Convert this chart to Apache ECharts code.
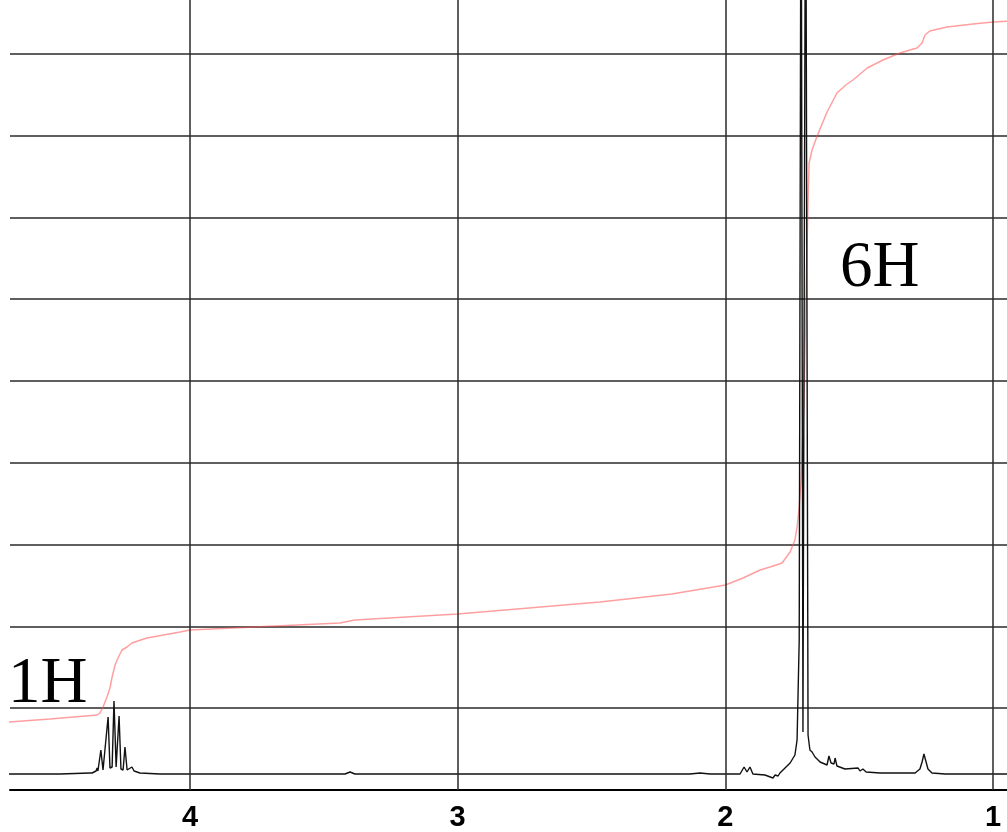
<!DOCTYPE html>
<html>
<head>
<meta charset="utf-8">
<script src="https://cdn.jsdelivr.net/npm/echarts@6/dist/echarts.min.js"></script>
<style>
  html, body { margin: 0; padding: 0; background: #fff; }
  #main { width: 1007px; height: 832px; }
</style>
</head>
<body>
<div id="main"></div>
<script>
// ppm axis labels
var ppmTicks = [1, 2, 3, 4];

// 1H spectrum trace (ppm, intensity in arbitrary units)
var specPpm = [4.68, 4.486, 4.374, 4.366, 4.351, 4.347, 4.344, 4.340, 4.333, 4.325,
  4.318, 4.306, 4.299, 4.291, 4.284, 4.276, 4.269, 4.265, 4.258, 4.250,
  4.243, 4.235, 4.228, 4.217, 4.209, 4.187, 4.112, 3.776, 3.421, 3.402,
  3.384, 2.842, 2.132, 2.095, 2.057, 1.945, 1.930, 1.919, 1.908, 1.897,
  1.852, 1.822, 1.814, 1.803, 1.796, 1.777, 1.758, 1.740, 1.732, 1.724,
  1.717, 1.710, 1.700, 1.691, 1.684, 1.676, 1.665, 1.646, 1.620, 1.613,
  1.605, 1.594, 1.590, 1.583, 1.553, 1.504, 1.497, 1.486, 1.474, 1.422,
  1.291, 1.273, 1.265, 1.258, 1.250, 1.243, 1.228, 1.179, 0.94];
var specInt = [16, 16, 17, 17, 19, 22, 19, 20, 40, 20,
  21, 73, 22, 23, 89, 23, 22, 74, 21, 20,
  43, 20, 19, 23, 19, 17, 16, 16, 16, 18,
  16, 16, 16, 17, 16, 16, 23, 18, 23, 16,
  15, 12, 15, 14, 17, 22, 27, 35, 50, 150,
  1000, 58, 1000, 55, 40, 38, 33, 28, 25, 34,
  27, 26, 32, 24, 21, 22, 19, 21, 18, 17,
  17, 21, 28, 36, 28, 21, 17, 16, 16];

// integral trace
var intPpm = [4.68, 4.523, 4.347, 4.336, 4.325, 4.310, 4.299, 4.291, 4.280, 4.269,
  4.254, 4.235, 4.217, 4.161, 4.037, 4.000, 3.440, 3.384, 3.000, 2.468,
  2.200, 2.000, 1.934, 1.870, 1.833, 1.788, 1.758, 1.740, 1.732, 1.725,
  1.717, 1.706, 1.699, 1.691, 1.687, 1.676, 1.657, 1.620, 1.583, 1.550,
  1.523, 1.470, 1.411, 1.348, 1.284, 1.265, 1.254, 1.236, 1.172, 1.075,
  1.000, 0.94];
var intVal = [68, 71, 75, 77, 83, 93, 102, 113, 125, 132,
  140, 143, 147, 152, 158, 160, 167, 170, 176, 188,
  196, 205, 212, 220, 223, 227, 238, 250, 263, 280,
  310, 390, 490, 590, 627, 640, 654, 678, 697, 705,
  710, 722, 730, 737, 742, 747, 755, 759, 763, 766,
  768, 769];

var peakLabels = ['1H', '6H'];

function zip(a, b) {
  return a.map(function (v, i) { return [v, b[i]]; });
}

var chart = echarts.init(document.getElementById('main'));

var option = {
  animation: false,
  grid: {
    left: 10,
    right: 0,
    top: 0,
    bottom: 42
  },
  xAxis: {
    type: 'value',
    inverse: true,
    min: 0.9477,
    max: 4.6725,
    axisLine: { lineStyle: { color: '#000', width: 2 } },
    axisTick: { show: false },
    splitLine: { show: false },
    axisLabel: {
      customValues: ppmTicks,
      color: '#000',
      fontFamily: 'Liberation Sans',
      fontWeight: 'bold',
      fontSize: 29,
      margin: 13
    }
  },
  yAxis: {
    type: 'value',
    min: 0,
    max: 790,
    interval: 81.8,
    axisLine: { show: false },
    axisTick: { show: false },
    axisLabel: { show: false },
    splitLine: {
      showMaxLine: false,
      lineStyle: { color: '#2a2a2a', width: 1.5 }
    }
  },
  series: [{
    name: 'integral',
    type: 'line',
    data: zip(intPpm, intVal),
    showSymbol: false,
    lineStyle: { color: 'rgba(255,80,80,0.55)', width: 1.5 },
    z: 2
  }, {
    name: 'spectrum',
    type: 'line',
    data: zip(specPpm, specInt),
    showSymbol: false,
    lineStyle: { color: '#111', width: 1.4 },
    z: 3,
    markLine: {
      silent: true,
      symbol: ['none', 'none'],
      label: { show: false },
      lineStyle: { color: '#2a2a2a', width: 1.5, type: 'solid' },
      data: ppmTicks.map(function (v) { return { xAxis: v }; })
    }
  }],
  graphic: [{
    type: 'text',
    left: 8,
    top: 652,
    style: {
      text: peakLabels[0],
      font: '65px "Liberation Serif"',
      fill: '#000'
    }
  }, {
    type: 'text',
    left: 840,
    top: 236,
    style: {
      text: peakLabels[1],
      font: '65px "Liberation Serif"',
      fill: '#000'
    }
  }]
};

chart.setOption(option);
</script>
</body>
</html>
